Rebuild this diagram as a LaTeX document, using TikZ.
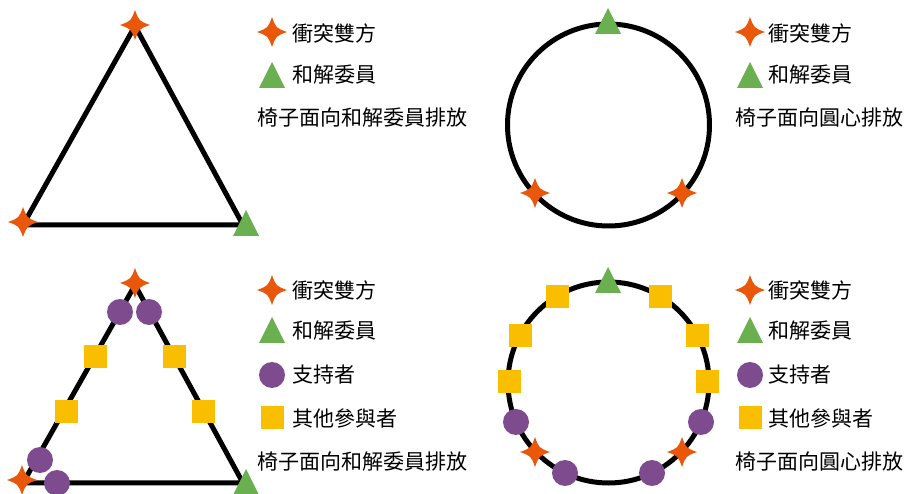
\documentclass[tikz,border=0pt]{standalone}
\usepackage{fontspec}
\setmainfont{Noto Sans CJK TC}
\definecolor{cOrange}{HTML}{E8570A}
\definecolor{cGreen}{HTML}{6AAF50}
\definecolor{cPurple}{HTML}{7D4B8E}
\definecolor{cGold}{HTML}{FABE00}
\tikzset{
  conflict/.pic={\fill[cOrange] (15,0) .. controls (4,4) .. (0,15) .. controls (-4,4) .. (-15,0) .. controls (-4,-4) .. (0,-15) .. controls (4,-4) .. cycle;},
  mediator/.pic={\fill[cGreen] (0,-13) -- (13,13) -- (-13,13) -- cycle;},
  supporter/.pic={\fill[cPurple] (0,0) circle (13);},
  other/.pic={\fill[cGold] (-11.5,-11.5) rectangle (11.5,11.5);},
  seatline/.style={line width=5pt, black},
  lbl/.style={anchor=west, inner sep=0pt, font=\fontsize{21}{23}\selectfont},
}
\begin{document}
\begin{tikzpicture}[x=1pt,y=-1pt]
\useasboundingbox (0,0) rectangle (906,494);
% ---------- top left ----------
\coordinate (ta) at (135,26);
\coordinate (tb) at (23,225);
\coordinate (tc) at (243,225);
\draw[seatline, line join=miter] (ta) -- (tb) -- (tc) -- cycle;
\pic at (135,25) {conflict};
\pic at (23,222) {conflict};
\pic at (246,223) {mediator};
\pic at (272,32) {conflict};
\node[lbl] (l1a) at (292,33) {衝突雙方};
\pic at (272,75) {mediator};
\node[lbl] (l1b) at (292,75) {和解委員};
\node[lbl] (l1c) at (257,118) {椅子面向和解委員排放};
% ---------- top right ----------
\coordinate (cc1) at (608.5,125);
\draw[seatline] (cc1) circle (101);
\pic at (608,21) {mediator};
\pic at (535,193) {conflict};
\pic at (682,193) {conflict};
\pic at (750,32) {conflict};
\node[lbl] (l2a) at (768,33) {衝突雙方};
\pic at (750,75) {mediator};
\node[lbl] (l2b) at (768,75) {和解委員};
\node[lbl] (l2c) at (735,118) {椅子面向圓心排放};
% ---------- bottom left ----------
\coordinate (ba) at (135,285);
\coordinate (bb) at (23,483);
\coordinate (bc) at (243,483);
\draw[seatline, line join=miter] (ba) -- (bb) -- (bc) -- cycle;
\pic at (120,312) {supporter};
\pic at (149,312) {supporter};
\pic at (40,460) {supporter};
\pic at (57,483) {supporter};
\pic at (95,357) {other};
\pic at (174,357) {other};
\pic at (66,412) {other};
\pic at (203,412) {other};
\pic at (135,283) {conflict};
\pic at (22,480) {conflict};
\pic at (246,482) {mediator};
\pic at (272,290) {conflict};
\node[lbl] (l3a) at (292,290) {衝突雙方};
\pic at (272,330) {mediator};
\node[lbl] (l3b) at (292,331) {和解委員};
\pic at (272,375) {supporter};
\node[lbl] (l3c) at (292,375) {支持者};
\pic at (272,418) {other};
\node[lbl] (l3d) at (292,418) {其他參與者};
\node[lbl] (l3e) at (257,462) {椅子面向和解委員排放};
% ---------- bottom right ----------
\coordinate (cc2) at (608.5,382.5);
\draw[seatline] (cc2) circle (100.5);
\pic at (608,280) {mediator};
\pic at (557,297) {other};
\pic at (660,297) {other};
\pic at (520,336) {other};
\pic at (697,336) {other};
\pic at (509,382) {other};
\pic at (707,382) {other};
\pic at (516,422) {supporter};
\pic at (701,422) {supporter};
\pic at (565,473) {supporter};
\pic at (652,473) {supporter};
\pic at (535,452) {conflict};
\pic at (682,452) {conflict};
\pic at (750,290) {conflict};
\node[lbl] (l4a) at (768,290) {衝突雙方};
\pic at (750,330) {mediator};
\node[lbl] (l4b) at (768,331) {和解委員};
\pic at (750,375) {supporter};
\node[lbl] (l4c) at (768,375) {支持者};
\pic at (750,418) {other};
\node[lbl] (l4d) at (768,418) {其他參與者};
\node[lbl] (l4e) at (735,462) {椅子面向圓心排放};
\end{tikzpicture}
\end{document}
